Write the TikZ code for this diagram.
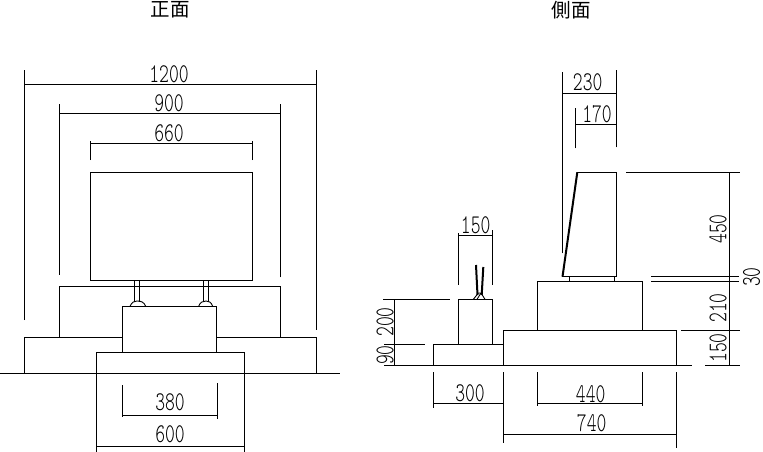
\documentclass[tikz,border=0pt]{standalone}
\usepackage{fontspec}
\setmainfont{Latin Modern Mono Light}
\newfontfamily\cjkfont{Noto Sans CJK JP}
\newcommand{\numtxt}[1]{\scalebox{0.72}[1.04]{\fontsize{26}{26}\selectfont #1}}
\tikzset{
  x=1pt,y=-1pt,
  ln/.style={line width=0.9pt,line cap=butt,black},
  thickln/.style={line width=2pt,black},
  dimtxt/.style={inner sep=0pt,text=black},
  vdimtxt/.style={inner sep=0pt,text=black,rotate=90},
  title/.style={inner sep=0pt,font=\cjkfont\fontsize{19.5}{19.5}\selectfont,text=black},
}
\begin{document}
\begin{tikzpicture}
\useasboundingbox (0,0) rectangle (763,452);
\fill[white] (0,0) rectangle (763,452);
% titles
\node[title] (t1) at (170,10) {正面};
\node[title] (t2) at (571,10) {側面};
% ---------- front view ----------
\draw[ln] (0,373.3) -- (340,373.3);
\draw[ln] (24.3,373.3) |- (122.3,337.3);
\draw[ln] (216.3,337.3) -| (316.3,373.3);
\draw[ln] (59.3,337.3) |- (280.3,286.3) -- (280.3,337.3);
\draw[ln] (122.3,352.3) |- (216.3,306.3) -- (216.3,352.3);
\draw[ln] (96.3,451.5) |- (244.3,352.3) -- (244.3,451.5);
\draw[ln] (90.3,172.3) rectangle (252.3,280.3);
\draw[ln] (134.3,280.3) -- (134.3,301.5) (139.7,280.3) -- (139.7,301.5);
\draw[ln] (203.3,280.3) -- (203.3,301.5) (208.7,280.3) -- (208.7,301.5);
\draw[ln] (130,306.3) .. controls (132,302) and (134,301) .. (137,301) .. controls (141,301) and (144,302) .. (145.7,306.3);
\draw[ln] (198.7,306.3) .. controls (200,302) and (203,301) .. (206,301) .. controls (209,301) and (211,302) .. (212.7,306.3);
% front dims
\draw[ln] (24.3,320) -- (24.3,70) (316.3,329.7) -- (316.3,70) (24.3,84) -- (316.3,84);
\draw[ln] (59.3,274.7) -- (59.3,104) (280.3,277.3) -- (280.3,104) (59.3,113) -- (280.3,113);
\draw[ln] (90.3,160) -- (90.3,141) (252.3,160) -- (252.3,141) (90.3,143) -- (252.3,143);
\draw[ln] (122.3,385) -- (122.3,417) (217.3,383.3) -- (217.3,419.3) (122.3,415.3) -- (217.3,415.3);
\draw[ln] (96.3,446.3) -- (244.3,446.3);
\node[dimtxt] (a1200) at (169,74) {\numtxt{1200}};
\node[dimtxt] (a900) at (169,103) {\numtxt{900}};
\node[dimtxt] (a660) at (169,133) {\numtxt{660}};
\node[dimtxt] (a380) at (170,402) {\numtxt{380}};
\node[dimtxt] (a600) at (170,434.7) {\numtxt{600}};
% ---------- side view ----------
\draw[ln] (384,365.3) -- (692,365.3) (705.3,365.3) -- (740,365.3);
\draw[ln] (433.3,365.3) |- (503.3,344.3);
\draw[ln] (458.3,344.3) |- (492.3,299.3) -- (492.3,344.3);
\draw[ln] (503.3,365.3) |- (676.3,330.3) -- (676.3,365.3);
\draw[ln] (537.3,330.3) |- (642.7,281.3) -- (642.7,330.3);
\draw[ln] (569.3,281.3) -- (569.3,276.7) (614.5,281.3) -- (614.5,276.7);
\draw[ln] (561.7,276.7) -- (616.3,276.7) -- (616.3,172.3) -- (577.3,172.3);
\draw[thickln] (562.5,276.7) -- (577.3,172.3);
% flower holder
\draw[thickln] (476,265) -- (477.5,295);
\draw[thickln] (483.3,267) -- (481.7,295);
\draw[ln] (473.3,299.3) -- (478.5,293) -- (481,293) -- (485,299.3) (477,299.3) -- (481,293);
% side dims
\draw[ln] (562.3,253.3) -- (562.3,72) (616.3,147.3) -- (616.3,70) (562.3,93.3) -- (616.3,93.3);
\draw[ln] (575.3,148.3) -- (575.3,108) (575.3,124) -- (616.3,124);
\draw[ln] (626,172.3) -- (740,172.3) (729.5,172.3) -- (729.5,365.3);
\draw[ln] (651,276.7) -- (739,276.7) (651,281.3) -- (739,281.3);
\draw[ln] (681,330.3) -- (740,330.3);
\draw[ln] (458.3,284.7) -- (458.3,232.7) (492.3,284.7) -- (492.3,230) (458.3,235) -- (492.3,235);
\draw[ln] (394.7,299.3) -- (394.7,365.3) (383.3,299.3) -- (450,299.3) (384,344.3) -- (425,344.3);
\draw[ln] (433.3,372.3) -- (433.3,408) (503.3,372.3) -- (503.3,442.7) (433.3,403.3) -- (503.3,403.3);
\draw[ln] (537.3,372.3) -- (537.3,406) (642.7,372.3) -- (642.7,406) (537.3,403.3) -- (642.7,403.3);
\draw[ln] (676.3,372.3) -- (676.3,447.7) (503.3,434.3) -- (676.3,434.3);
\node[dimtxt] (b230) at (587.7,82) {\numtxt{230}};
\node[dimtxt] (b170) at (597,114.5) {\numtxt{170}};
\node[dimtxt] (b150) at (475.7,225) {\numtxt{150}};
\node[dimtxt] (b300) at (470,393) {\numtxt{300}};
\node[dimtxt] (b440) at (590.7,394) {\numtxt{440}};
\node[dimtxt] (b740) at (591.7,423.3) {\numtxt{740}};
\node[vdimtxt] (c450) at (718,229) {\numtxt{450}};
\node[vdimtxt] (c30) at (751.5,277) {\numtxt{30}};
\node[vdimtxt] (c210) at (718,308) {\numtxt{210}};
\node[vdimtxt] (c150) at (718,348) {\numtxt{150}};
\node[vdimtxt] (c200) at (385,322) {\numtxt{200}};
\node[vdimtxt] (c90) at (385,355) {\numtxt{90}};
\end{tikzpicture}
\end{document}
